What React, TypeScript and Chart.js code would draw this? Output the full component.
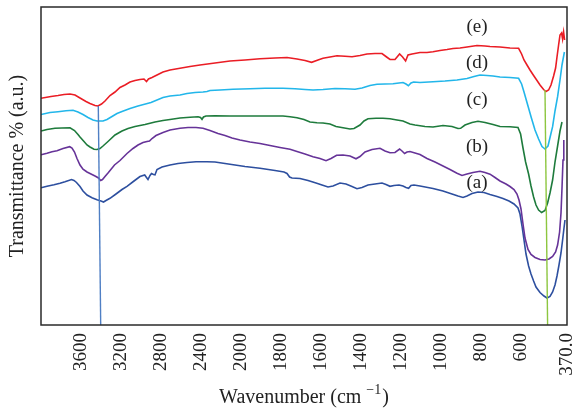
import { useEffect, useRef } from "react";
import { Chart, registerables } from "chart.js";

Chart.register(...registerables);

// [wavenumber (cm^-1), transmittance (a.u.)]
const seriesA: [number, number][] = [
  [4000, 137.3], [3940, 138.8], [3870, 140.3], [3810, 141.8], [3760, 143.3], [3695, 145.5], [3670, 144.5],
  [3645, 142.5], [3610, 138.5], [3580, 134], [3540, 130], [3490, 127.3], [3440, 125.3], [3400, 124],
  [3375, 123], [3350, 124.5], [3310, 126.7], [3250, 131], [3190, 135.5], [3140, 138.7], [3070, 144],
  [3010, 148.5], [2963, 150], [2945, 147.5], [2930, 145.5], [2910, 149.5], [2895, 151.5], [2875, 150.5],
  [2860, 150.2], [2840, 155.5], [2790, 158], [2710, 160], [2630, 161.5], [2540, 162.5], [2450, 163.3],
  [2340, 163.3], [2260, 163], [2160, 161.5], [2060, 160], [1980, 158.5], [1905, 156.7], [1830, 154.5],
  [1785, 153], [1770, 151.5], [1757, 148], [1745, 147], [1705, 146.5], [1665, 144.5], [1625, 142],
  [1595, 140], [1565, 138], [1540, 139], [1505, 142], [1475, 141], [1445, 138.5], [1420, 136.3],
  [1395, 137.5], [1365, 140], [1330, 141], [1295, 142], [1275, 140.5], [1255, 138.7], [1235, 139.5],
  [1210, 140], [1190, 139], [1175, 137.5], [1162, 136.7], [1150, 139.5], [1135, 140], [1105, 139],
  [1040, 136.5], [990, 134], [945, 131], [915, 129], [890, 127.5], [870, 129], [845, 131.5], [815, 133],
  [785, 132.5], [755, 130.5], [720, 128.5], [690, 126.5], [660, 124], [635, 121], [615, 117], [605, 111],
  [595, 99], [585, 85], [575, 71], [562, 59], [550, 51], [537, 44], [525, 38], [505, 32.5], [485, 29],
  [470, 27], [455, 28.5], [442, 33], [430, 40], [420, 49], [410, 60], [400, 72], [392, 85], [385, 97],
  [380, 105],
];

const seriesB: [number, number][] = [
  [4000, 170.2], [3940, 171.8], [3890, 173.3], [3840, 174.3], [3780, 176.5], [3713, 178.3], [3690, 177],
  [3665, 173], [3640, 166.5], [3610, 160], [3580, 155.8], [3540, 153], [3500, 151], [3455, 148.7],
  [3425, 147], [3403, 144.5], [3385, 145.5], [3360, 148.5], [3330, 152], [3265, 160], [3210, 164.5],
  [3140, 171.5], [3080, 176.5], [3030, 180], [2980, 182.5], [2940, 183.5], [2915, 184], [2890, 186.5],
  [2850, 189.5], [2780, 192.5], [2710, 195], [2610, 196.7], [2530, 197.5], [2450, 197.5], [2380, 196.7],
  [2310, 194.5], [2230, 191.5], [2160, 189.5], [2090, 187], [2010, 185], [1955, 183], [1905, 181.5],
  [1855, 179.5], [1805, 177.5], [1755, 175.7], [1720, 173.5], [1680, 171], [1640, 168.3], [1605, 166.5],
  [1575, 164.3], [1550, 166.5], [1522, 169.8], [1490, 170], [1455, 169], [1425, 166.2], [1405, 168.5],
  [1380, 173], [1345, 175.5], [1305, 176.7], [1280, 174], [1255, 172.3], [1230, 172.5], [1207, 176],
  [1195, 174], [1182, 171.5], [1170, 173], [1155, 173.5], [1105, 170.5], [1070, 166.5], [1030, 163],
  [995, 159.5], [955, 155.5], [920, 151.7], [895, 149.5], [870, 151], [840, 152.5], [805, 153.8],
  [780, 152.5], [755, 150.8], [730, 147.5], [705, 144], [675, 141], [655, 138.5], [635, 135.5], [620, 131],
  [610, 125], [600, 116], [590, 101], [580, 87], [565, 75.5], [550, 70.5], [530, 67.5], [505, 65.5],
  [480, 65], [460, 66], [442, 68.5], [427, 73], [417, 80], [407, 93], [400, 112], [395, 137], [390, 165],
  [386, 185],
];

const seriesC: [number, number][] = [
  [4000, 194], [3940, 195.5], [3860, 196.7], [3790, 197], [3710, 197.3], [3665, 194.5], [3630, 190.5],
  [3610, 188], [3570, 183.5], [3540, 180], [3510, 178], [3470, 175.7], [3440, 175.5], [3410, 176.5],
  [3380, 179], [3330, 183.5], [3260, 190], [3190, 194], [3130, 196.5], [3060, 198.5], [2960, 200.5],
  [2860, 203], [2780, 204.5], [2710, 205.5], [2610, 207], [2510, 207.8], [2430, 208.3], [2405, 207.5],
  [2390, 205.7], [2375, 208], [2350, 209], [2260, 209.2], [2110, 209], [1955, 209], [1855, 209],
  [1790, 209], [1755, 208.2], [1720, 207.3], [1685, 205.5], [1655, 203], [1620, 202.2], [1590, 202],
  [1555, 201], [1525, 198.5], [1490, 197.2], [1455, 196], [1435, 196.5], [1405, 200], [1385, 204],
  [1365, 206.2], [1325, 206.7], [1290, 206.7], [1255, 206.2], [1220, 205], [1190, 204], [1155, 201],
  [1130, 200], [1080, 198.5], [1040, 198], [990, 199.5], [945, 198.5], [915, 196.5], [902, 196.7],
  [880, 200], [845, 202.5], [815, 203.8], [780, 202.5], [740, 200.5], [705, 198.5], [655, 198.3],
  [615, 197.5], [602, 191], [590, 177], [577, 163], [562, 151], [550, 139], [537, 128], [525, 120],
  [512, 115], [497, 112.5], [480, 114.5], [467, 122], [455, 132], [442, 145], [430, 163], [417, 179],
  [405, 194], [395, 203],
];

const seriesD: [number, number][] = [
  [4000, 210.5], [3910, 212.5], [3830, 213.3], [3750, 214.2], [3680, 214.7], [3630, 213], [3580, 210.5],
  [3530, 207.5], [3480, 205], [3440, 204], [3380, 204], [3340, 205.5], [3290, 208.5], [3240, 211.5],
  [3190, 213.5], [3110, 216.5], [3030, 219], [2900, 222.5], [2780, 227.5], [2710, 229], [2610, 230],
  [2540, 231.5], [2460, 232.5], [2380, 233], [2340, 233.5], [2310, 234.5], [2210, 235], [2080, 235.7],
  [1955, 236.2], [1880, 236.7], [1790, 236.7], [1730, 236.2], [1680, 235.5], [1640, 235], [1590, 235.5],
  [1530, 236.5], [1480, 236.2], [1430, 235.7], [1395, 237], [1355, 239.5], [1320, 240.7], [1280, 241],
  [1240, 241.2], [1210, 242], [1190, 242.5], [1175, 241], [1163, 239.3], [1150, 242], [1137, 243],
  [1105, 242.5], [1040, 243.3], [980, 244], [920, 245], [870, 246.5], [835, 248.5], [805, 250],
  [770, 249.5], [740, 249], [705, 248], [655, 247.5], [612, 246.7], [597, 241], [585, 233], [564, 218.3],
  [548, 207], [530, 195], [512, 186], [495, 178.5], [480, 176], [465, 179], [452, 190], [442, 198.3],
  [430, 214], [417, 228.3], [405, 245], [395, 260], [383, 273],
];

const seriesE: [number, number][] = [
  [4000, 226.7], [3900, 228.5], [3830, 229.5], [3770, 230.5], [3710, 231], [3660, 230], [3610, 227],
  [3550, 223.5], [3510, 221.5], [3460, 219.5], [3430, 219], [3395, 221], [3360, 224], [3310, 229.5],
  [3260, 233], [3210, 237.5], [3160, 240], [3110, 243], [3060, 244.5], [3010, 245.5], [2970, 246],
  [2945, 243.5], [2925, 246], [2890, 247.5], [2840, 250], [2780, 253], [2710, 255], [2610, 256.7],
  [2510, 258.5], [2410, 260], [2260, 262], [2110, 264], [1980, 265], [1905, 266.2], [1830, 267],
  [1770, 267.5], [1720, 266], [1680, 264.5], [1647, 262.7], [1615, 265], [1590, 266.7], [1555, 268],
  [1520, 269.3], [1480, 268.7], [1445, 268.3], [1405, 269.5], [1370, 271], [1330, 271.5], [1295, 271.5],
  [1272, 268], [1255, 265.5], [1230, 265.5], [1207, 271], [1192, 268], [1177, 264], [1165, 270],
  [1145, 271], [1105, 272.5], [1070, 272.5], [1040, 273.3], [1005, 274.5], [970, 275.5], [940, 276.5],
  [905, 277], [870, 278], [820, 279.5], [780, 279], [755, 278.5], [705, 278], [655, 277], [612, 276.7],
  [597, 271], [585, 265], [570, 260], [555, 255], [537, 249.5], [520, 244.5], [505, 240], [487, 235.5],
  [475, 233.5], [462, 235], [450, 240], [437, 249], [427, 257], [420, 268], [412, 280], [405, 290],
  [397, 292], [392, 286], [387, 293], [382, 285],
];

// Reference lines (O–H band and metal–O band)
const markerOH: [number, number][] = [[3427, 219], [3403, 0]];
const markerMO: [number, number][] = [[480, 235], [467, 0]];

const tickWavenumbers = [3600, 3200, 2800, 2400, 2000, 1800, 1600, 1400, 1200, 1000, 800, 600, 370];
const tickLabels = ["3600", "3200", "2800", "2400", "2000", "1800", "1600", "1400", "1200", "1000", "800", "600", "370.0"];

const curveLabels = ["(a)", "(b)", "(c)", "(d)", "(e)"];
const curveLabelWavenumber = 820;
const curveLabelValues = [142, 178, 225, 262, 298];

const xTitleMain = "Wavenumber (cm ";
const xTitleSup = "\u22121";
const xTitleEnd = ")";

const axisMinW = 370;
const axisMaxW = 4000;
const yMin = 0;
const yMax = 318;

// Axis break: region above 2000 cm^-1 is drawn at half scale
const BREAK = 2000;
const toAxis = (w: number) => (w <= BREAK ? w : BREAK + (w - BREAK) / 2);

const FONT = "'Liberation Serif', 'Times New Roman', serif";

export default function App() {
  const ref = useRef<HTMLCanvasElement | null>(null);

  useEffect(() => {
    if (!ref.current) return;
    const pts = (arr: [number, number][]) => arr.map(([w, v]) => ({ x: toAxis(w), y: v }));
    const line = (data: [number, number][], color: string, width = 1.6) => ({
      data: pts(data),
      borderColor: color,
      backgroundColor: color,
      borderWidth: width,
      pointRadius: 0,
      tension: 0,
      fill: false,
    });

    const boxPlugin = {
      id: "boxAndLabels",
      afterDatasetsDraw(chart: any) {
        const { ctx, chartArea, scales } = chart;
        ctx.save();
        ctx.strokeStyle = "#2a2a2a";
        ctx.lineWidth = 1.5;
        ctx.strokeRect(chartArea.left, chartArea.top, chartArea.right - chartArea.left, chartArea.bottom - chartArea.top);
        ctx.fillStyle = "#222";
        ctx.font = `19px ${FONT}`;
        ctx.textAlign = "center";
        ctx.textBaseline = "middle";
        const x = scales.x.getPixelForValue(toAxis(curveLabelWavenumber));
        curveLabels.forEach((t, i) => {
          ctx.fillText(t, x, scales.y.getPixelForValue(curveLabelValues[i]));
        });

        // x-axis title with superscript
        const mainFont = `20px ${FONT}`;
        const supFont = `14px ${FONT}`;
        ctx.textAlign = "left";
        ctx.textBaseline = "alphabetic";
        ctx.font = mainFont;
        const w1 = ctx.measureText(xTitleMain).width;
        const w3 = ctx.measureText(xTitleEnd).width;
        ctx.font = supFont;
        const w2 = ctx.measureText(xTitleSup).width;
        const total = w1 + w2 + w3 + 1;
        const cx = (chartArea.left + chartArea.right) / 2;
        let tx = cx - total / 2;
        const base = chartArea.bottom + 78;
        ctx.font = mainFont;
        ctx.fillText(xTitleMain, tx, base);
        tx += w1;
        ctx.font = supFont;
        ctx.fillText(xTitleSup, tx, base - 9);
        tx += w2 + 1;
        ctx.font = mainFont;
        ctx.fillText(xTitleEnd, tx, base);
        ctx.restore();
      },
    };

    const chart = new Chart(ref.current, {
      type: "line",
      data: {
        datasets: [
          line(markerOH, "#4f7fc4", 1.4),
          line(markerMO, "#8dc63f", 1.4),
          line(seriesE, "#ea1d25"),
          line(seriesD, "#22b6ea"),
          line(seriesC, "#1e7b3c"),
          line(seriesB, "#663398"),
          line(seriesA, "#2d4f9f"),
        ] as any,
      },
      options: {
        animation: false,
        responsive: true,
        maintainAspectRatio: false,
        parsing: true,
        layout: { padding: { top: 7, right: 6, left: 0, bottom: 0 } },
        plugins: { legend: { display: false }, tooltip: { enabled: false } },
        scales: {
          x: {
            type: "linear",
            reverse: true,
            min: toAxis(axisMinW),
            max: toAxis(axisMaxW),
            grid: { display: false, drawTicks: false },
            border: { display: false },
            afterBuildTicks: (scale: any) => {
              scale.ticks = tickWavenumbers.map((w) => ({ value: toAxis(w) }));
            },
            afterFit: (scale: any) => {
              scale.height = 85;
              scale.paddingLeft = 0;
              scale.paddingRight = 0;
            },
            ticks: {
              autoSkip: false,
              maxRotation: 90,
              minRotation: 90,
              padding: 8,
              color: "#222",
              font: { family: FONT, size: 19 },
              callback: (_v: any, i: number) => tickLabels[i],
            },
            title: { display: false },
          },
          y: {
            type: "linear",
            min: yMin,
            max: yMax,
            grid: { display: false, drawTicks: false },
            border: { display: false },
            ticks: { display: false },
            afterFit: (scale: any) => {
              scale.width = 41;
              scale.paddingTop = 0;
              scale.paddingBottom = 0;
            },
            title: {
              display: true,
              text: "Transmittance % (a.u.)",
              color: "#222",
              font: { family: FONT, size: 20 },
              padding: { top: 6, bottom: 0 },
            },
          },
        },
      },
      plugins: [boxPlugin],
    } as any);
    return () => chart.destroy();
  }, []);

  return (
    <div style={{ position: "absolute", left: 0, top: 0, width: 573, height: 410, background: "#fff" }}>
      <canvas ref={ref} />
    </div>
  );
}
